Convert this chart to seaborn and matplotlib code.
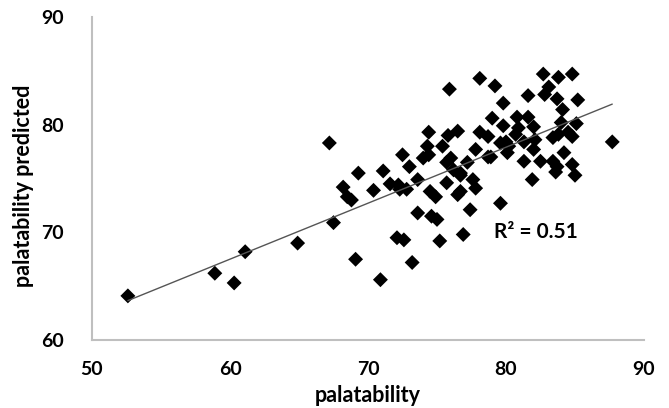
import matplotlib
matplotlib.use("Agg")
import matplotlib.pyplot as plt
import seaborn as sns
import pandas as pd

palatability = [
    52.6, 58.9, 60.3, 61.1, 64.9, 67.5, 69.1, 70.9, 67.2, 68.5,
    68.8, 68.2, 69.3, 71.1, 70.4, 71.6, 72.3, 72.8, 72.2, 73.6,
    72.5, 73.0, 74.4, 74.3, 74.4, 74.0, 75.4, 75.8, 76.5, 76.0,
    75.7, 76.2, 77.2, 77.8, 78.1, 78.7, 78.7, 79.6, 80.1, 79.0,
    79.8, 80.8, 81.6, 82.0, 80.9, 80.7, 80.0, 80.2, 81.3, 82.1,
    82.0, 81.3, 82.5, 83.4, 83.7, 84.2, 84.8, 85.0, 81.9, 84.0,
    85.1, 84.5, 84.8, 83.4, 83.8, 84.1, 85.2, 83.7, 82.8, 83.1,
    82.7, 83.8, 84.8, 81.6, 79.8, 79.2, 78.1, 75.9, 87.7, 75.7,
    77.6, 74.5, 76.7, 74.9, 76.7, 77.8, 76.5, 77.4, 79.6, 76.9,
    73.6, 74.6, 75.0, 72.1, 72.6, 75.2, 73.2, 78.9, 76.7, 83.6,
]
predicted = [
    64.1, 66.2, 65.3, 68.2, 69.0, 70.9, 67.5, 65.6, 78.3, 73.3,
    73.0, 74.2, 75.5, 75.7, 73.9, 74.5, 74.0, 74.0, 74.4, 74.9,
    77.2, 76.1, 79.3, 78.0, 77.2, 76.9, 78.0, 79.0, 79.4, 76.9,
    76.5, 75.8, 76.5, 77.7, 79.3, 78.9, 77.0, 78.3, 77.4, 80.6,
    79.9, 80.7, 80.7, 79.8, 79.7, 79.1, 78.4, 78.0, 78.4, 78.6,
    77.7, 76.6, 76.6, 76.6, 76.1, 77.4, 76.3, 75.3, 74.9, 80.2,
    80.1, 79.3, 78.9, 78.8, 79.1, 81.4, 82.3, 82.4, 82.8, 83.5,
    84.7, 84.4, 84.7, 82.7, 82.0, 83.6, 84.3, 83.3, 78.4, 74.6,
    74.9, 73.8, 73.8, 73.3, 75.3, 74.1, 73.5, 72.1, 72.7, 69.8,
    71.8, 71.5, 71.2, 69.5, 69.3, 69.2, 67.2, 77.0, 75.5, 75.6,
]
x_ticks = [50, 60, 70, 80, 90]
y_ticks = [60, 70, 80, 90]
r2_label = "R\u00b2 = 0.51"

df = pd.DataFrame({"palatability": palatability, "predicted": predicted})

sns.set_style("white")
plt.rcParams["font.family"] = ["Lato", "DejaVu Sans"]

fig = plt.figure(figsize=(6.69, 4.08), dpi=100)
ax = fig.add_axes([92 / 669, 1 - 340 / 408, (644 - 92) / 669, (340 - 17) / 408])

sns.regplot(
    data=df, x="palatability", y="predicted", ax=ax, ci=None,
    marker="D", color="black",
    scatter_kws={"s": 58, "edgecolors": "none", "alpha": 1},
    line_kws={"color": "#555555", "linewidth": 1.0},
)

ax.set_xlim(50, 90)
ax.set_ylim(60, 90)
ax.set_xticks(x_ticks)
ax.set_yticks(y_ticks)
ax.tick_params(axis="both", length=0, labelsize=14, labelcolor="black")
ax.tick_params(axis="y", pad=20)
ax.tick_params(axis="x", pad=15)
for lab in ax.get_xticklabels() + ax.get_yticklabels():
    lab.set_fontweight("bold")

for s in ["top", "right"]:
    ax.spines[s].set_visible(False)
for s in ["left", "bottom"]:
    ax.spines[s].set_color("#BFBFBF")
    ax.spines[s].set_linewidth(1.5)

ax.set_xlabel("palatability", fontsize=15.5, fontweight="bold", color="black")
ax.set_ylabel("palatability predicted", fontsize=15.5, fontweight="bold", color="black")
ax.xaxis.set_label_coords((368 - 92) / 552, -(385 - 340) / 323)
ax.yaxis.set_label_coords((34 - 92) / 552, (340 - 186) / 323)

ax.text(79.1, 70.05, r2_label, fontsize=15, fontweight="bold", color="black",
        ha="left", va="center")

fig.savefig("out.png", dpi=100)
